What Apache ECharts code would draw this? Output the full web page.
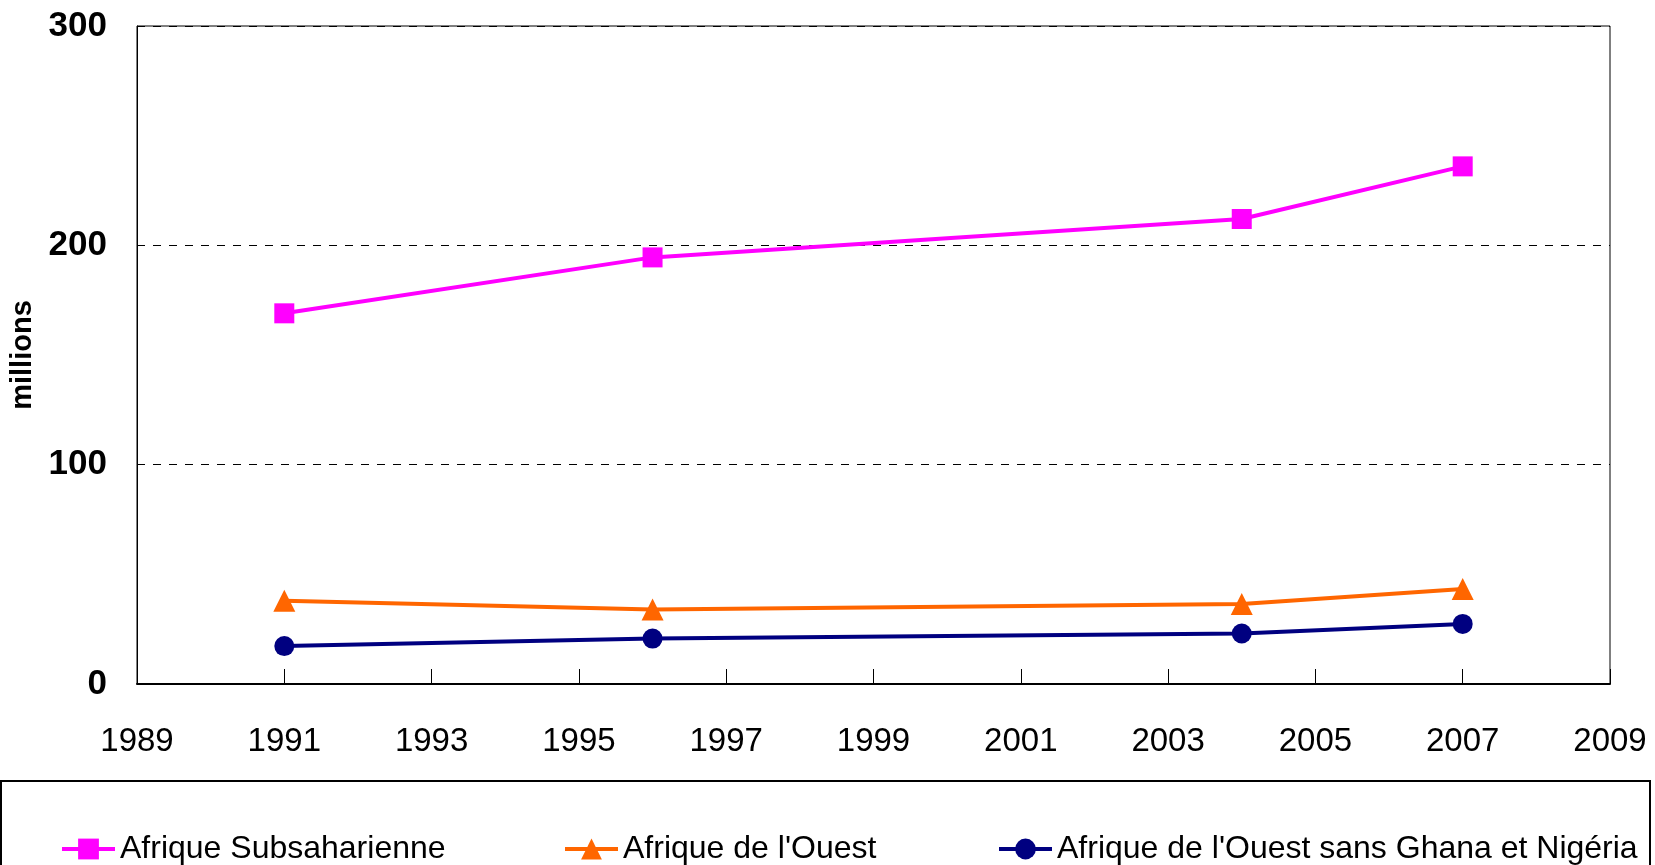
<!DOCTYPE html>
<html>
<head>
<meta charset="utf-8">
<script src="https://cdn.jsdelivr.net/npm/echarts@6/dist/echarts.min.js"></script>
<style>
  html, body { margin: 0; padding: 0; background: #fff; }
  #chart { width: 1655px; height: 865px; }
</style>
</head>
<body>
<div id="chart"></div>
<script>
// data
const years = [1991, 1996, 2004, 2007]
const subsaharienne = [169, 194.5, 212, 236]
const ouest = [38, 34, 36.5, 43.3]
const ouestSansGhanaNigeria = [17.3, 20.7, 23, 27.4]

const seriesNames = [
  'Afrique Subsaharienne',
  "Afrique de l'Ouest",
  "Afrique de l'Ouest sans Ghana et Nigéria"
]

const font = '"Liberation Sans", Arial, sans-serif'

const toPairs = (vals) => years.map((y, i) => [y, vals[i]])

const makeLine = (name, vals, color, symbol, size) => ({
  name,
  type: 'line',
  data: toPairs(vals),
  symbol,
  symbolSize: size,
  lineStyle: { color, width: 4 },
  itemStyle: { color },
  emphasis: { disabled: true },
  animation: false
})

const legendAt = (name, left) => ({
  data: [name],
  left,
  top: 833,
  padding: 0,
  itemWidth: 53,
  itemHeight: 26,
  lineStyle: { width: 4 },
  textStyle: { fontFamily: font, fontSize: 32, color: '#000' },
  selectedMode: false
})

const chart = echarts.init(document.getElementById('chart'))

chart.setOption({
  backgroundColor: '#fff',
  animation: false,
  grid: {
    left: 137,
    right: 45,
    top: 26,
    bottom: 181,
    show: true,
    borderColor: '#000',
    borderWidth: 1
  },
  xAxis: {
    type: 'value',
    min: 1989,
    max: 2009,
    interval: 2,
    axisLine: { lineStyle: { color: '#000', width: 2 } },
    axisTick: { show: true, inside: true, length: 15, lineStyle: { color: '#000', width: 1 } },
    axisLabel: {
      color: '#000',
      fontFamily: font,
      fontSize: 33,
      margin: 41,
      formatter: (v) => String(v)
    },
    splitLine: { show: false }
  },
  yAxis: {
    type: 'value',
    min: 0,
    max: 300,
    interval: 100,
    name: 'millions',
    nameLocation: 'middle',
    nameGap: 100,
    nameTextStyle: { color: '#000', fontFamily: font, fontSize: 29, fontWeight: 'bold' },
    axisLine: { show: true, lineStyle: { color: '#000', width: 1 } },
    axisTick: { show: false },
    axisLabel: { color: '#000', fontFamily: font, fontSize: 35, fontWeight: 'bold', margin: 30 },
    splitLine: { show: true, lineStyle: { color: '#000', type: [8, 8], width: 1 } }
  },
  legend: [
    legendAt(seriesNames[0], 60),
    legendAt(seriesNames[1], 563),
    legendAt(seriesNames[2], 997)
  ],
  graphic: [
    {
      type: 'rect',
      shape: { x: 1, y: 781, width: 1649, height: 100 },
      style: { fill: 'none', stroke: '#000', lineWidth: 2 },
      silent: true
    }
  ],
  series: [
    makeLine(seriesNames[0], subsaharienne, '#FF00FF', 'rect', 20),
    makeLine(seriesNames[1], ouest, '#FF6600', 'triangle', 22),
    makeLine(seriesNames[2], ouestSansGhanaNigeria, '#000080', 'circle', 20)
  ]
})

window.addEventListener('resize', () => chart.resize())
</script>
</body>
</html>
